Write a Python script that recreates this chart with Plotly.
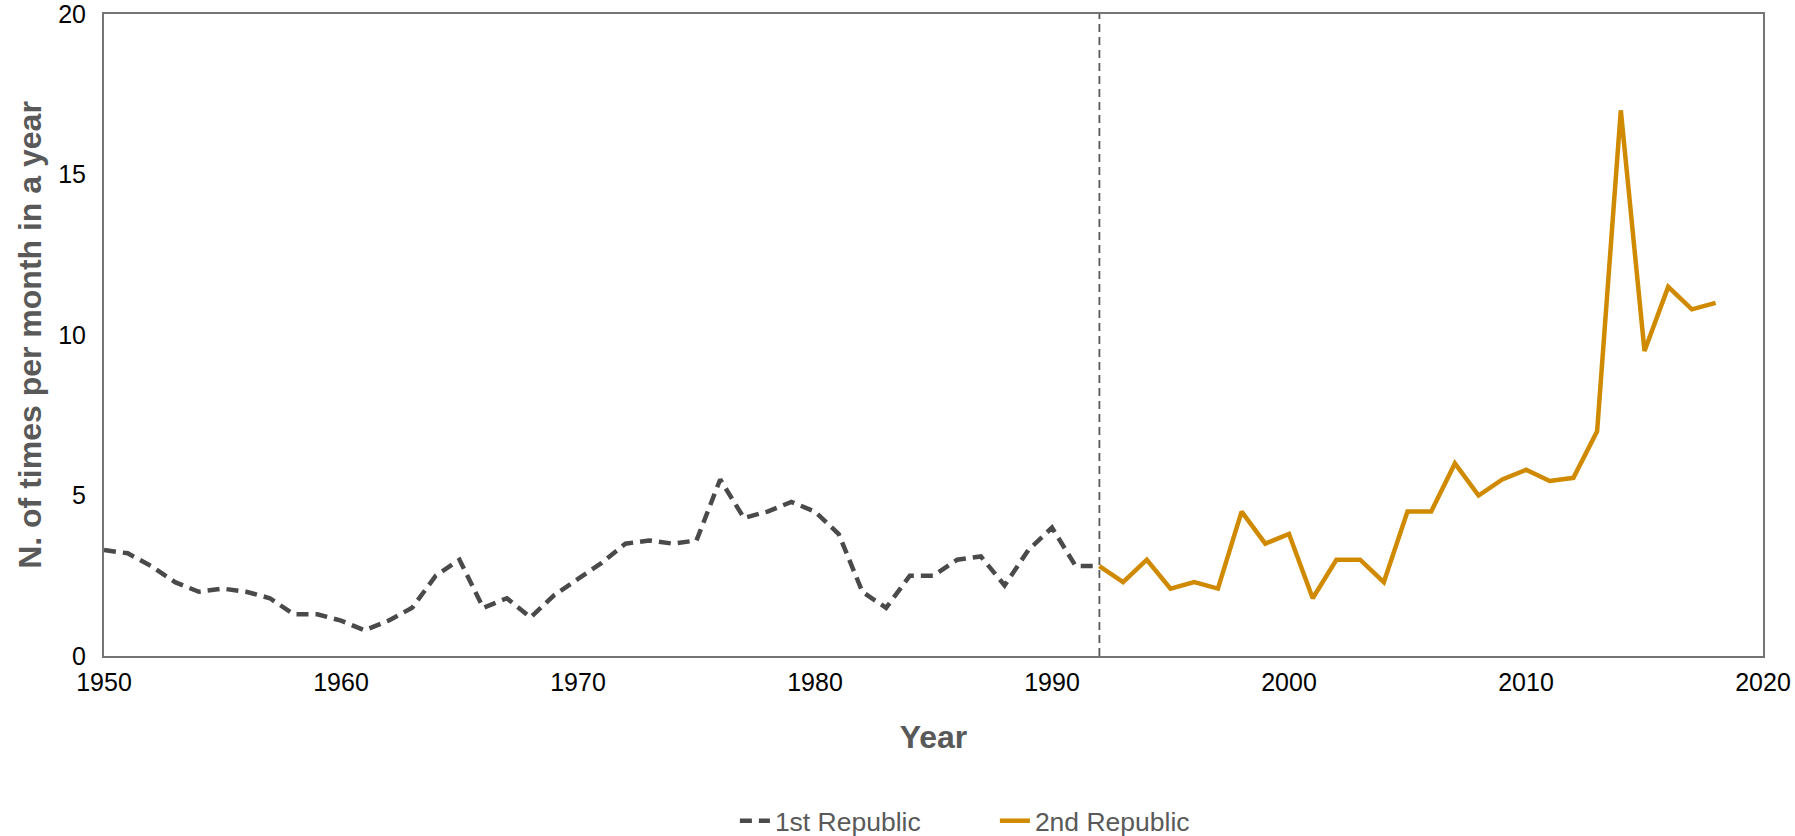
import plotly.graph_objects as go

# ---- data ----
years_first = list(range(1950, 1993))
values_first = [3.3, 3.2, 2.8, 2.3, 2.0, 2.1, 2.0, 1.8, 1.3, 1.3,
                1.1, 0.8, 1.1, 1.5, 2.5, 3.0, 1.5, 1.8, 1.2, 1.9,
                2.4, 2.9, 3.5, 3.6, 3.5, 3.6, 5.5, 4.3, 4.5, 4.8,
                4.5, 3.8, 2.0, 1.5, 2.5, 2.5, 3.0, 3.1, 2.2, 3.3,
                4.0, 2.8, 2.8]
years_second = list(range(1992, 2019))
values_second = [2.8, 2.3, 3.0, 2.1, 2.3, 2.1, 4.5, 3.5, 3.8, 1.8,
                 3.0, 3.0, 2.3, 4.5, 4.5, 6.0, 5.0, 5.5, 5.8, 5.45,
                 5.55, 7.0, 17.0, 9.5, 11.5, 10.8, 11.0]
series_names = ["1st Republic", "2nd Republic"]
divider_year = 1992
x_ticks = [1950, 1960, 1970, 1980, 1990, 2000, 2010, 2020]
y_ticks = [0, 5, 10, 15, 20]

FONT = "Liberation Sans, Arial, sans-serif"
AXIS_COLOR = "#757575"
TITLE_COLOR = "#595959"

fig = go.Figure()
fig.add_trace(go.Scatter(
    x=years_first, y=values_first, mode="lines", name=series_names[0],
    line=dict(color="#4a4a4a", width=4.5, dash="12px,7px"),
))
fig.add_trace(go.Scatter(
    x=years_second, y=values_second, mode="lines", name=series_names[1],
    line=dict(color="#D08A00", width=4.5),
))

fig.add_shape(type="line", xref="x", yref="y",
              x0=divider_year, x1=divider_year, y0=y_ticks[0], y1=y_ticks[-1],
              line=dict(color="#595959", width=1.8, dash="8px,5px"))

fig.update_layout(
    width=1795, height=836,
    margin=dict(l=104, r=32, t=14, b=180, autoexpand=False),
    paper_bgcolor="white", plot_bgcolor="white",
    font=dict(family=FONT, color="#000000"),
    showlegend=True,
    legend=dict(orientation="h", x=0.537, xanchor="center", y=-0.257, yanchor="middle",
                font=dict(size=26.5, color=TITLE_COLOR, family=FONT),
                entrywidth=215, entrywidthmode="pixels",
                tracegroupgap=0, bgcolor="rgba(0,0,0,0)"),
)

fig.update_xaxes(
    range=[x_ticks[0], x_ticks[-1]], tickmode="array", tickvals=x_ticks,
    showgrid=False, zeroline=False,
    showline=True, linecolor=AXIS_COLOR, linewidth=2, mirror=True,
    ticks="outside", ticklen=3, tickcolor="rgba(0,0,0,0)", ticklabeloverflow="allow",
    tickfont=dict(size=25, color="#000000", family=FONT),
    title=dict(text="<b>Year</b>", font=dict(size=32, color=TITLE_COLOR, family=FONT), standoff=31),
    automargin=False,
)
fig.update_yaxes(
    range=[y_ticks[0], y_ticks[-1]], tickmode="array", tickvals=y_ticks,
    showgrid=False, zeroline=False,
    showline=True, linecolor=AXIS_COLOR, linewidth=2, mirror=True,
    ticks="outside", ticklen=11, tickcolor="rgba(0,0,0,0)", ticklabeloverflow="allow",
    tickfont=dict(size=25, color="#000000", family=FONT),
    title=dict(text="<b>N. of times per month in a year</b>", font=dict(size=32, color=TITLE_COLOR, family=FONT), standoff=7),
    automargin=False,
)

fig.write_html(
    "out.html",
    config={"displayModeBar": False},
    post_script="document.body.style.margin='0';document.body.style.padding='0';document.body.style.overflow='hidden';",
)
